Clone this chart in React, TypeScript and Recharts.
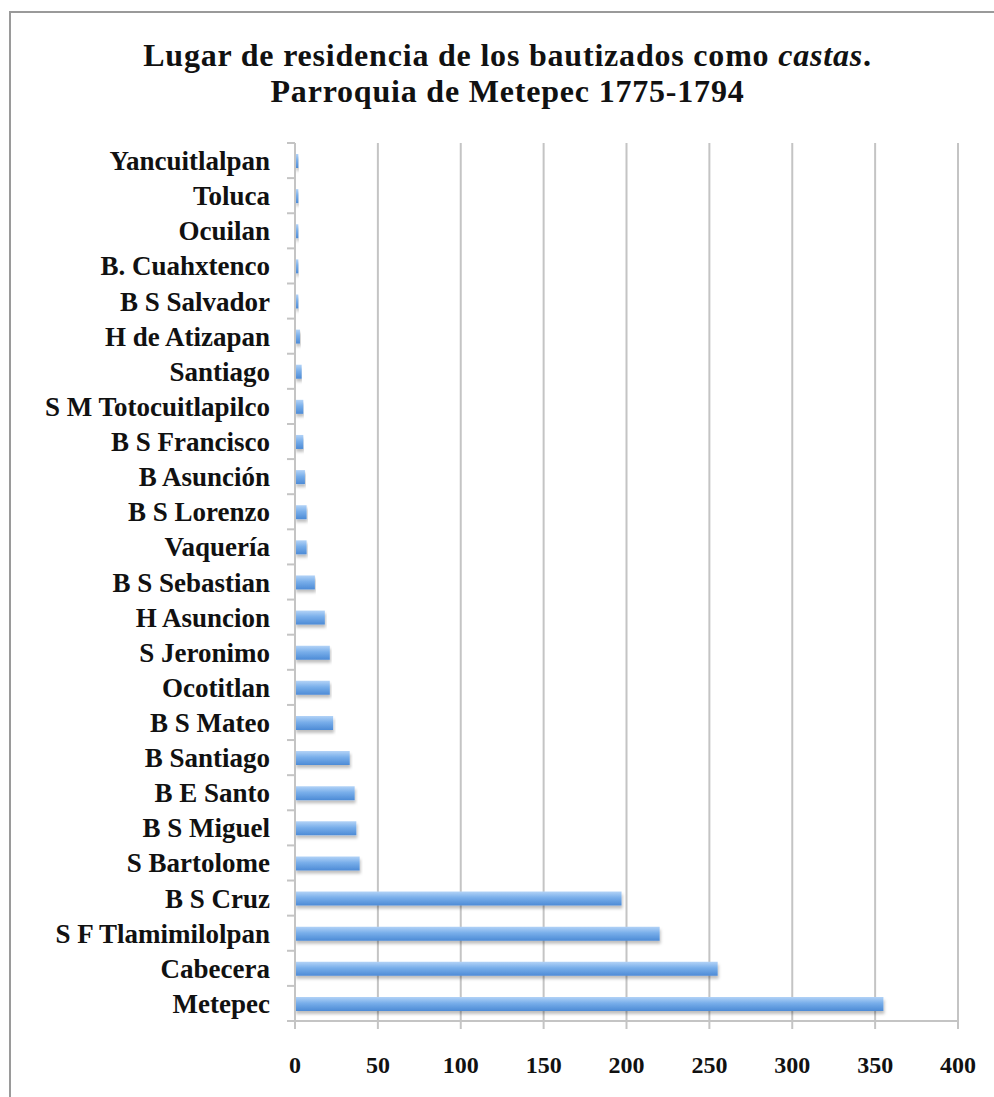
import React from 'react';
import { BarChart, Bar, XAxis, YAxis, CartesianGrid } from 'recharts';

// Places listed top to bottom as in the original chart
const places = [
  'Yancuitlalpan', 'Toluca', 'Ocuilan', 'B. Cuahxtenco', 'B S Salvador', 'H de Atizapan',
  'Santiago', 'S M Totocuitlapilco', 'B S Francisco', 'B Asunción', 'B S Lorenzo', 'Vaquería',
  'B S Sebastian', 'H Asuncion', 'S Jeronimo', 'Ocotitlan', 'B S Mateo', 'B Santiago',
  'B E Santo', 'B S Miguel', 'S Bartolome', 'B S Cruz', 'S F Tlamimilolpan', 'Cabecera', 'Metepec',
];
const baptized = [2, 2, 2, 2, 2, 3, 4, 5, 5, 6, 7, 7, 12, 18, 21, 21, 23, 33, 36, 37, 39, 197, 220, 255, 355];
const xTicks = [0, 50, 100, 150, 200, 250, 300, 350, 400];

const data = places.map((place, i) => ({ place, value: baptized[i] }));

const FONT = '"Liberation Serif", serif';
const GRID = '#c4c4c4';

function PlaceTick(props: any) {
  const { x, y, payload, index, visibleTicksCount } = props;
  const half = 35.1 / 2;
  return (
    <g>
      <text x={x - 25} y={y} dy={9.5} textAnchor="end" fontFamily={FONT} fontWeight="bold" fontSize={27} fill="#111">
        {payload.value}
      </text>
      <line x1={x - 8} x2={x} y1={y - half} y2={y - half} stroke={GRID} strokeWidth={2} />
      {index === visibleTicksCount - 1 && (
        <line x1={x - 8} x2={x} y1={y + half} y2={y + half} stroke={GRID} strokeWidth={2} />
      )}
    </g>
  );
}

export default function App() {
  return (
    <div style={{ position: 'absolute', left: 0, top: 0, width: 994, height: 1097, overflow: 'hidden', background: '#fff' }}>
      <div style={{ position: 'absolute', left: 9, top: 11, width: 1000, height: 1100, border: '2px solid #9a9a9a', boxSizing: 'border-box' }} />
      <div style={{ position: 'absolute', left: 0, top: 37, width: 1015, textAlign: 'center', fontFamily: FONT, fontWeight: 'bold', fontSize: 32, letterSpacing: 0.8, lineHeight: '36px', color: '#111' }}>
        Lugar de residencia de los bautizados como <i>castas</i>.<br />
        Parroquia de Metepec 1775-1794
      </div>
      <div style={{ position: 'absolute', left: 0, top: 0 }}>
        <BarChart
          width={994}
          height={1097}
          data={data}
          layout="vertical"
          margin={{ top: 143, right: 36, bottom: 16, left: 0 }}
          barSize={14}
        >
          <defs>
            <linearGradient id="barFill" x1="0" y1="0" x2="0" y2="1">
              <stop offset="0%" stopColor="#b3d3f7" />
              <stop offset="45%" stopColor="#78aeea" />
              <stop offset="100%" stopColor="#4d8bd6" />
            </linearGradient>
            <filter id="barShadow" x="-5%" y="-30%" width="110%" height="190%">
              <feDropShadow dx="1" dy="3" stdDeviation="1.5" floodColor="#000" floodOpacity="0.25" />
            </filter>
          </defs>
          <CartesianGrid horizontal={false} stroke={GRID} strokeWidth={2} />
          <XAxis
            type="number"
            domain={[0, 400]}
            ticks={xTicks}
            height={60}
            stroke={GRID}
            strokeWidth={2}
            tickSize={8}
            tickMargin={27}
            tick={{ fontFamily: FONT, fontWeight: 'bold', fontSize: 24, fill: '#111' }}
          />
          <YAxis
            type="category"
            dataKey="place"
            width={295}
            stroke={GRID}
            strokeWidth={2}
            tickLine={false}
            tickSize={0}
            tickMargin={0}
            interval={0}
            tick={<PlaceTick />}
          />
          <Bar dataKey="value" fill="url(#barFill)" filter="url(#barShadow)" isAnimationActive={false} />
        </BarChart>
      </div>
    </div>
  );
}
